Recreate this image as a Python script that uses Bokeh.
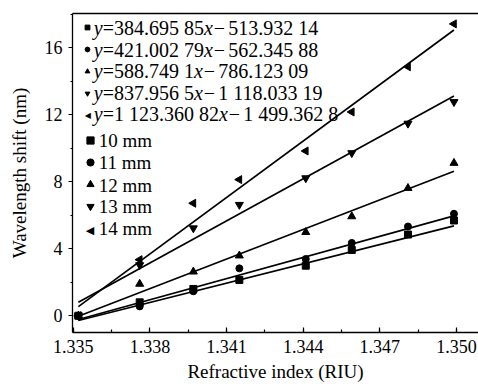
import math
from bokeh.plotting import figure
from bokeh.models import (Range1d, FixedTicker, LinearAxis, Legend, LegendItem,
                          ColumnDataSource, NumeralTickFormatter, Label)
from bokeh.embed import file_html
from bokeh.resources import INLINE

# ---------------- data ----------------
ri = [1.3352, 1.3376, 1.3397, 1.3415, 1.3441, 1.3459, 1.3481, 1.3499]
labels = ["10 mm", "11 mm", "12 mm", "13 mm", "14 mm"]
shift_10 = [0.0, 0.80, 1.60, 2.14, 2.99, 3.93, 4.85, 5.69]
shift_11 = [0.0, 0.56, 1.46, 2.83, 3.39, 4.35, 5.33, 6.09]
shift_12 = [0.0, 1.90, 2.63, 3.59, 4.99, 5.93, 7.62, 9.12]
shift_13 = [0.0, 3.03, 5.23, 6.63, 8.22, 9.72, 11.48, 12.77]
shift_14 = [0.0, 3.35, 6.72, 8.13, 9.84, 12.17, 14.87, 17.43]
slopes = [384.69585, 421.00279, 588.7491, 837.9565, 1123.36082]
intercepts = [-513.93214, -562.34588, -786.12309, -1118.03319, -1499.3628]
slope_txt = ["384.695 85", "421.002 79", "588.749 1", "837.956 5", "1 123.360 82"]
icpt_txt = ["513.932 14", "562.345 88", "786.123 09", "1 118.033 19", "1 499.362 8"]
x_ticks = [1.335, 1.338, 1.341, 1.344, 1.347, 1.350]
y_ticks = [0, 4, 8, 12, 16]

series = [shift_10, shift_11, shift_12, shift_13, shift_14]
markers = ["square", "circle", "triangle", "inverted_triangle", "triangle"]
angles = [0, 0, 0, 0, math.pi / 2]
sizes = [7, 7, 8, 8, 8]

FONT = "Liberation Serif"
W, H = 478, 387
BL, BB = 72, 55            # left / bottom borders -> frame origin
FRAME_BOTTOM = H - BB

p = figure(width=W, height=H, output_backend="svg", toolbar_location=None,
           x_range=Range1d(1.33497, 1.35086), y_range=Range1d(-1.0, 18.05),
           min_border_left=BL, min_border_right=0, min_border_top=13,
           min_border_bottom=BB, x_axis_label="Refractive index (RIU)",
           y_axis_label="Wavelength shift (nm)")
p.grid.visible = False
p.outline_line_color = None
p.background_fill_color = "white"
p.border_fill_color = "white"

for ax in (p.xaxis[0], p.yaxis[0]):
    ax.axis_line_color = "black"
    ax.axis_line_width = 1.3
    ax.major_tick_line_color = "black"
    ax.minor_tick_line_color = "black"
    ax.major_tick_line_width = 1.2
    ax.minor_tick_line_width = 1.2
    ax.major_label_text_font = FONT
    ax.major_label_text_font_size = "18px"
    ax.major_label_text_color = "black"
    ax.axis_label_text_font = FONT
    ax.axis_label_text_font_size = "19px"
    ax.axis_label_text_font_style = "normal"
    ax.axis_label_text_color = "black"

xa = p.xaxis[0]
xa.ticker = FixedTicker(ticks=x_ticks,
                        minor_ticks=[x_ticks[0] + 0.0015 * i for i in range(11)])
xa.formatter = NumeralTickFormatter(format="0.000")
xa.major_tick_in = 5
xa.major_tick_out = 0
xa.minor_tick_in = 3
xa.minor_tick_out = 0
xa.major_label_standoff = 7
xa.axis_label_standoff = 5

ya = p.yaxis[0]
ya.ticker = FixedTicker(ticks=y_ticks, minor_ticks=[2 * i for i in range(10)])
ya.major_tick_in = 0
ya.major_tick_out = 4
ya.minor_tick_in = 0
ya.minor_tick_out = 2
ya.major_label_standoff = 6
ya.axis_label_standoff = 12

top = LinearAxis(axis_line_color="black", axis_line_width=1.3,
                 major_tick_line_color=None, minor_tick_line_color=None,
                 major_label_text_font_size="0px", major_label_text_alpha=0)
top.ticker = FixedTicker(ticks=[])
p.add_layout(top, "above")

# fit lines
for k in range(5):
    xs = [ri[0], ri[-1]]
    ys = [slopes[k] * v + intercepts[k] for v in xs]
    p.line(xs, ys, line_color="black", line_width=1.7)

renderers = []
for k in range(5):
    src = ColumnDataSource(dict(x=ri, y=series[k]))
    r = p.scatter("x", "y", source=src, marker=markers[k], size=sizes[k],
                  angle=angles[k], fill_color="black", line_color="black")
    renderers.append(r)
# legend stand-in for the left-pointing triangle (legends ignore angle)
blank = p.scatter([], [], marker="triangle", fill_alpha=0, line_alpha=0)
leg_r = renderers[:4] + [blank]

ROW = 22
leg1 = Legend(items=[LegendItem(label=" ", renderers=[leg_r[k]]) for k in range(5)],
              location=(9.3, 206.5))
leg2 = Legend(items=[LegendItem(label=" ", renderers=[leg_r[k]]) for k in range(5)],
              location=(8.5, 92.9))
for lg, g in ((leg1, 12), (leg2, 18)):
    lg.label_text_font = FONT
    lg.label_text_font_size = "10px"
    lg.glyph_width = g
    lg.glyph_height = g
    lg.label_height = ROW
    lg.spacing = 0
    lg.padding = 0
    lg.margin = 0
    lg.label_standoff = 0
    lg.border_line_color = None
    lg.background_fill_alpha = 0
    lg.click_policy = "none"
    p.add_layout(lg)

# ---- legend texts (italic y and x) ----
EM = {".": 0.25, " ": 0.25, "=": 0.564, "\u2212": 0.564}
def width(s, fs):
    return sum(EM.get(c, 0.5) for c in s) * fs

def lab(x_img, y_img, text, fs, style="normal", font=FONT, align="left"):
    p.add_layout(Label(x=x_img - BL, y=FRAME_BOTTOM - y_img, x_units="screen",
                       y_units="screen", text=text, text_font=font,
                       text_font_size=f"{fs}px", text_font_style=style,
                       text_color="black", text_align=align,
                       text_baseline="middle"))

FS = 20
eq_rows = [27.0, 49.3, 70.7, 92.0, 113.3]
for k in range(5):
    x0 = 93.3
    y0 = eq_rows[k]
    lab(x0, y0, "y", FS, "italic")
    x1 = x0 + 0.444 * FS
    s1 = "=" + slope_txt[k]
    lab(x1, y0, s1, FS)
    x2 = x1 + width(s1, FS)
    lab(x2, y0, "x", FS, "italic")
    x3 = x2 + 0.444 * FS
    lab(x3 + 1.0, y0, "\u2212", FS)
    lab(x3 + 15.5, y0, icpt_txt[k], FS)

mm_rows = [140.0, 162.3, 184.5, 206.0, 227.5]
for k in range(5):
    lab(98.3, mm_rows[k], labels[k], 19)

# left-pointing triangles for the 14 mm legend entries
lab(87.3, eq_rows[4] + 1.4, "\u25c0", 8, font="DejaVu Sans", align="center")
lab(89.5, 140.1 + 4 * ROW + 1.4, "\u25c0", 11, font="DejaVu Sans", align="center")

open("out.html", "w").write(file_html(p, INLINE))
